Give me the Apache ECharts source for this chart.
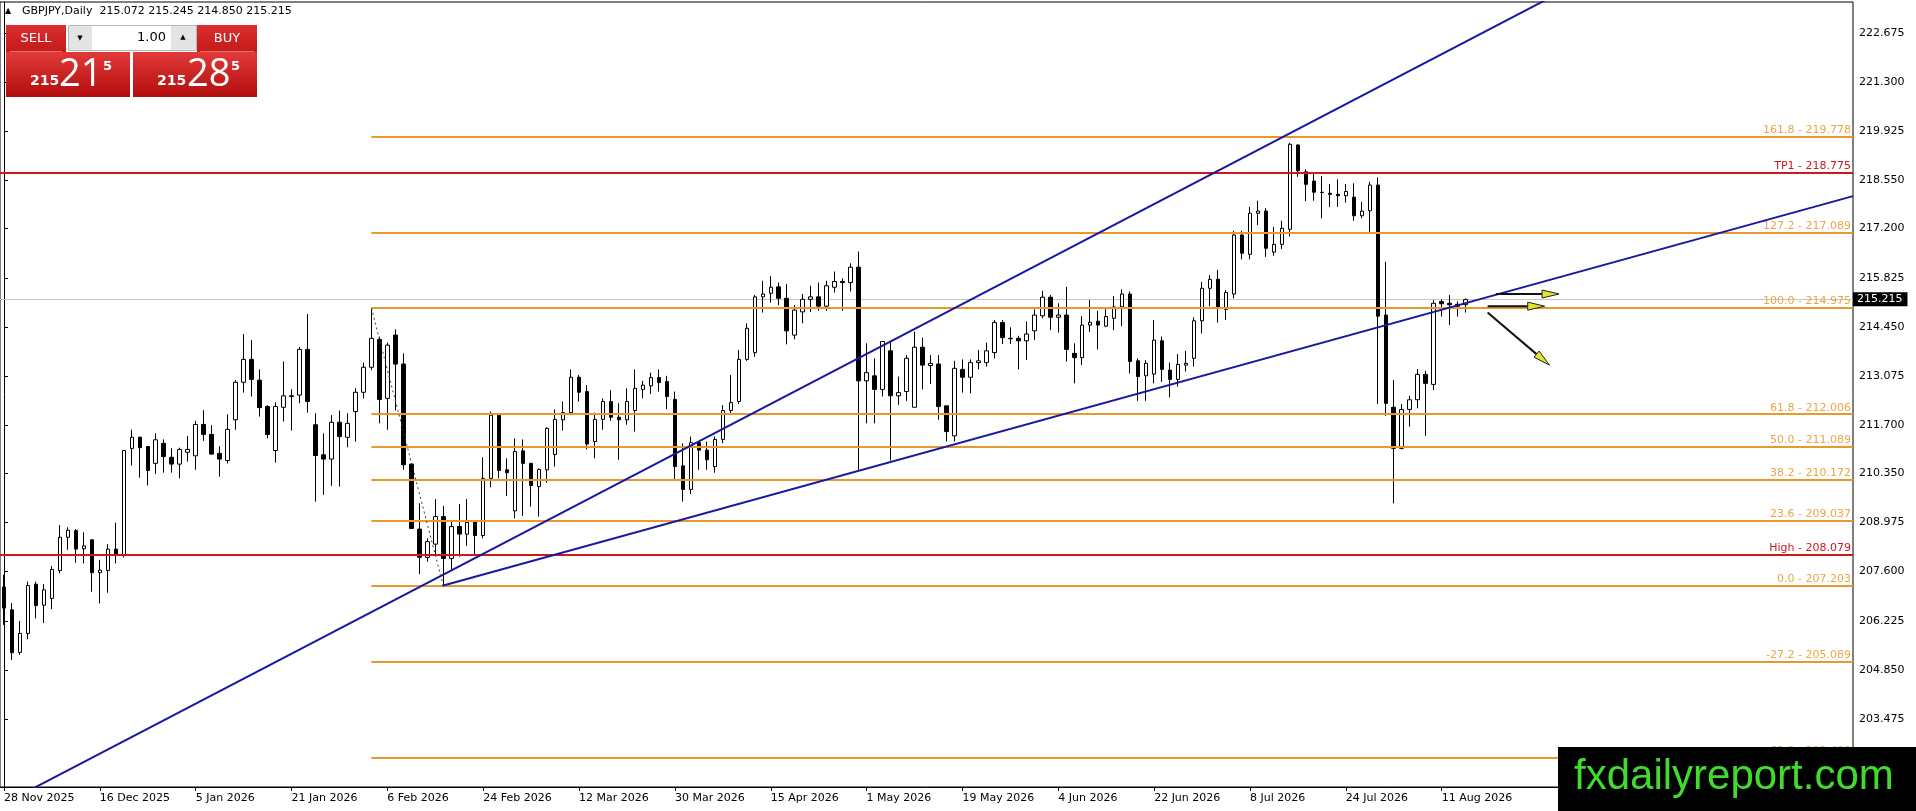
<!DOCTYPE html>
<html><head><meta charset="utf-8">
<script src="https://cdn.jsdelivr.net/npm/echarts@6/dist/echarts.min.js"></script>
<style>html,body{margin:0;padding:0;background:#fff;}#c{width:1916px;height:811px;}</style>
</head><body><div id="c"></div>
<script>
const symbolName = 'GBPJPY,Daily';
const opens = [207.17,206.53,205.34,205.87,207.25,206.66,206.85,207.63,208.56,208.75,208.24,208.49,207.57,207.63,208.23,208.07,211.05,211.36,211.10,210.63,211.19,210.80,210.61,210.94,210.84,211.72,211.44,210.91,210.71,211.85,212.90,213.54,212.96,212.22,210.99,212.20,212.52,212.54,213.82,211.71,210.87,210.75,211.78,211.36,212.08,212.62,213.32,214.10,212.45,214.22,213.41,210.61,208.79,208.00,208.37,209.14,207.97,208.86,208.65,209.02,208.61,210.21,211.98,210.45,209.30,210.98,210.63,209.98,210.45,210.88,211.85,212.05,213.04,212.64,211.24,211.86,212.36,211.92,211.85,212.11,212.70,212.80,213.03,212.92,212.42,210.56,209.90,211.21,211.00,210.54,211.30,212.11,212.36,213.54,213.73,215.29,215.39,215.57,215.25,214.22,214.87,215.22,215.29,215.03,215.56,215.72,215.69,216.12,212.94,213.08,212.70,213.78,212.52,212.64,212.20,213.88,213.37,213.41,212.24,211.40,213.26,213.04,213.45,213.45,213.73,214.57,214.13,214.13,214.06,214.34,214.76,215.28,214.72,214.78,213.71,213.59,214.50,214.61,214.47,214.69,215.01,215.37,213.50,213.08,213.13,214.06,213.24,212.98,213.38,213.57,214.62,215.53,215.78,214.94,215.37,217.02,216.48,217.63,217.69,216.54,216.76,217.18,219.54,218.79,218.53,218.22,218.19,218.16,218.12,218.08,217.56,217.70,218.42,214.78,212.20,211.05,212.14,212.41,213.12,212.84,215.16,215.11,215.08,215.072];
const closes = [206.58,205.33,205.87,207.21,206.65,207.09,207.66,208.56,208.76,208.23,208.32,207.57,207.64,208.23,208.09,210.99,211.36,211.07,210.43,211.29,210.82,210.61,211.02,211.02,211.72,211.44,210.89,210.75,211.58,212.90,213.54,212.98,212.19,211.44,212.22,212.52,212.50,213.82,212.36,210.85,210.75,211.78,211.38,211.75,212.62,213.32,214.13,212.42,213.94,213.41,210.59,208.81,208.00,208.44,209.14,207.97,208.86,208.65,208.98,208.61,210.21,211.98,210.43,210.37,210.96,210.63,210.01,210.46,211.61,211.86,212.05,213.04,212.62,211.17,211.86,212.36,211.92,211.85,212.36,212.73,212.82,213.03,212.89,212.50,210.54,209.90,211.21,211.00,210.73,211.30,212.11,212.33,213.54,214.41,215.29,215.37,215.56,215.25,214.34,214.92,215.22,215.29,215.03,215.60,215.72,215.69,216.12,212.94,213.17,212.70,214.04,212.52,212.61,213.57,213.88,213.38,213.43,212.22,211.52,213.29,213.04,213.45,213.50,213.78,214.57,214.15,214.12,214.06,214.25,214.78,215.28,214.72,214.78,213.82,213.59,214.50,214.58,214.50,214.74,215.01,215.37,213.48,213.06,213.43,214.08,213.26,212.98,213.40,213.43,214.62,215.53,215.78,214.97,215.41,217.02,216.51,217.63,217.69,216.65,216.76,217.21,219.56,218.82,218.44,218.22,218.21,218.16,218.12,218.24,217.56,217.69,218.42,214.75,212.31,211.05,212.14,212.41,213.12,212.87,215.11,215.10,215.07,215.03,215.215];
const lows = [206.11,205.13,205.27,205.71,206.29,206.16,206.55,207.55,208.21,207.85,207.83,207.04,206.71,207.01,207.83,208.00,210.57,210.23,210.01,210.33,210.37,210.37,210.21,210.68,210.45,211.26,210.88,210.26,210.63,211.57,212.61,212.50,211.94,211.33,210.65,211.80,211.55,212.31,212.05,209.56,209.75,210.00,209.98,211.08,211.24,212.45,213.24,211.75,211.57,212.11,210.45,208.79,207.53,207.88,208.09,207.203,207.65,208.02,208.32,208.07,208.53,209.96,210.21,209.72,209.09,209.16,209.42,209.14,210.09,210.54,211.55,211.98,212.36,211.02,210.77,211.57,211.82,210.73,211.71,211.52,212.45,212.57,212.64,212.15,210.17,209.56,209.77,210.45,210.45,210.37,211.19,212.03,212.29,213.50,213.61,214.85,215.13,215.06,213.96,214.10,214.55,214.87,214.90,214.90,215.41,214.90,215.44,210.45,211.75,211.75,212.50,210.71,212.27,212.38,212.20,212.70,212.85,211.85,211.24,211.24,212.61,212.59,213.26,213.34,213.57,213.97,213.97,213.26,213.52,214.08,214.69,214.36,214.29,213.48,212.87,213.38,214.31,213.82,214.44,214.36,214.47,213.15,212.38,212.38,212.87,212.91,212.48,212.78,213.20,213.34,214.27,215.03,214.57,214.64,215.25,216.34,216.34,217.30,216.41,216.44,216.63,216.98,218.65,217.97,217.98,217.49,217.80,217.81,217.93,217.42,217.49,217.11,212.29,211.96,209.51,211.02,211.66,212.17,211.40,212.68,214.74,214.50,214.74,214.850];
const highs = [207.51,206.72,206.22,207.32,207.32,207.25,207.76,208.90,208.84,208.79,208.70,208.51,207.93,208.37,208.97,211.00,211.57,211.38,211.12,211.47,211.30,211.05,211.07,211.40,211.82,212.12,211.70,211.11,212.00,212.96,214.25,214.08,213.26,212.26,212.34,213.48,212.70,213.89,214.81,212.03,211.47,211.98,212.11,212.03,212.73,213.45,214.975,214.18,214.01,214.38,213.71,210.63,209.51,208.53,209.63,209.44,209.04,209.49,209.63,209.04,210.80,212.08,212.03,210.77,211.33,211.30,210.65,210.49,211.64,212.14,212.36,213.26,213.10,212.82,212.05,212.45,212.68,212.31,212.73,213.26,212.94,213.17,213.26,213.08,212.64,211.19,211.38,211.24,211.24,211.38,212.26,213.10,213.80,214.55,215.34,215.74,215.87,215.69,215.65,215.06,215.37,215.60,215.69,215.74,216.00,215.81,216.23,216.56,213.99,213.57,214.04,214.04,213.06,213.66,214.32,214.15,213.66,213.66,212.24,213.50,213.54,213.54,213.80,214.01,214.64,214.64,214.44,214.20,214.60,214.94,215.46,215.34,215.11,215.57,213.99,214.75,215.20,214.90,215.00,215.31,215.50,215.44,213.57,213.52,214.64,214.18,213.45,213.69,213.78,214.72,215.71,215.90,216.04,215.48,217.14,217.14,217.81,217.98,217.77,217.25,217.42,219.60,219.56,218.86,218.75,218.67,218.45,218.58,218.45,218.47,217.95,218.51,218.63,216.27,212.96,212.29,212.52,213.27,213.22,215.20,215.22,215.34,215.16,215.245];
const xTickLabels = ['28 Nov 2025','16 Dec 2025','5 Jan 2026','21 Jan 2026','6 Feb 2026','24 Feb 2026','12 Mar 2026','30 Mar 2026','15 Apr 2026','1 May 2026','19 May 2026','4 Jun 2026','22 Jun 2026','8 Jul 2026','24 Jul 2026','11 Aug 2026'];
const xTickEvery = 12;
const slotCount = 232;
const yTicks = [222.675,221.300,219.925,218.550,217.200,215.825,214.450,213.075,211.700,210.350,208.975,207.600,206.225,204.850,203.475];
const yMin = 201.572, yMax = 223.543;
const fibNames = ['161.8','127.2','100.0','61.8','50.0','38.2','23.6','0.0','-27.2','-61.8'];
const fibValues = [219.778,217.089,214.975,212.006,211.089,210.172,209.037,207.203,205.089,202.400];
const fibStartBar = 46;
const redNames = ['TP1','High'];
const redValues = [218.775,208.079];
const bidPrice = 215.215;
const swingHigh = [46, 214.975];
const swingLow = [55, 207.203];
const trendA = [[-0.5, 201.049],[200, 224.413]];
const trendB = [[54.9, 207.203],[231.5, 218.11]];
const arrowsFrom = [[186.8, 215.37],[185.75, 215.03],[185.75, 214.85]];
const arrowsTo = [[194.7, 215.37],[192.9, 215.03],[193.5, 213.38]];
const sellParts = ['215','21','5'];
const buyParts = ['215','28','5'];
const lotSize = '1.00';

const F = 'DejaVu Sans';
const last = opens.length - 1;
const categories = Array.from({length: slotCount}, (_, i) => String(i));
const candleData = opens.map((o, i) => [o, closes[i], lows[i], highs[i]]);
const tickShown = (idx) => idx % xTickEvery === 0 && (idx / xTickEvery) < xTickLabels.length;
const RIGHT = 231.5;

const fibColor = '#E8992E', fibText = '#E9A646', redColor = '#CC1A1A', navy = '#1818A0';

const chart = echarts.init(document.getElementById('c'), null, {renderer: 'canvas'});
const redGrad = new echarts.graphic.LinearGradient(0,0,0,1,[{offset:0,color:'#e23a3a'},{offset:1,color:'#b30c0c'}]);
const redGrad2 = new echarts.graphic.LinearGradient(0,0,0,1,[{offset:0,color:'#dc2e2e'},{offset:1,color:'#c41a1a'}]);

chart.setOption({
  animation: false,
  backgroundColor: '#ffffff',
  grid: {left: 0, right: 63, top: 2, bottom: 24, show: true, borderColor: '#000', borderWidth: 1, backgroundColor: '#fff'},
  xAxis: [
    {type: 'category', data: categories, boundaryGap: true,
     axisLine: {show: true, lineStyle: {color: '#000', width: 1}},
     axisTick: {show: true, interval: (i) => tickShown(i), alignWithLabel: true, length: 4, lineStyle: {color: '#000'}},
     axisLabel: {show: true, interval: (i) => tickShown(i), align: 'left', margin: 6, color: '#000', fontSize: 11, fontFamily: F,
       formatter: (v, idx) => tickShown(idx) ? xTickLabels[idx / xTickEvery] : ''},
     splitLine: {show: false}},
    {type: 'value', min: -0.5, max: RIGHT, show: false, gridIndex: 0}
  ],
  yAxis: [{type: 'value', position: 'right', min: yMin, max: yMax, scale: true,
    axisLine: {show: true, lineStyle: {color: '#000', width: 1}},
    axisTick: {show: true, length: 4, customValues: yTicks, lineStyle: {color: '#000'}},
    axisLabel: {show: true, customValues: yTicks, margin: 6, color: '#000', fontSize: 11, fontFamily: F, formatter: (v) => v.toFixed(3)},
    splitLine: {show: false}}],
  series: [
    {type: 'candlestick', name: 'GBPJPY', xAxisIndex: 0, yAxisIndex: 0, data: candleData, barWidth: 4, z: 3,
     itemStyle: {color: '#ffffff', color0: '#000000', borderColor: '#000000', borderColor0: '#000000', borderWidth: 1},
     markLine: {silent: true, symbol: ['none','none'], animation: false, z: 2,
       data: [{yAxis: bidPrice, lineStyle: {color: '#c4c4c4', width: 1, type: 'solid'},
         label: {show: true, position: 'end', distance: 0, formatter: bidPrice.toFixed(3), color: '#fff', backgroundColor: '#000',
           padding: [2, 5, 1, 4], fontSize: 11, fontFamily: F}}]}},
    {type: 'line', name: 'levels', xAxisIndex: 1, yAxisIndex: 0, data: trendA, symbol: 'none', z: 6,
     lineStyle: {color: navy, width: 2}, clip: true,
     markLine: {silent: true, symbol: ['none','none'], animation: false, z: 5,
       data: fibValues.map((v, i) => [
         {coord: [fibStartBar, v], lineStyle: {color: fibColor, width: 2, type: 'solid'},
          label: {show: true, position: 'insideEndTop', distance: [2, 1], formatter: fibNames[i] + ' - ' + v.toFixed(3), color: fibText, fontSize: 11, fontFamily: F}},
         {coord: [RIGHT, v]}])}},
    {type: 'line', name: 'trendB', xAxisIndex: 1, yAxisIndex: 0, data: trendB, symbol: 'none', z: 6,
     lineStyle: {color: navy, width: 2}, clip: true,
     markLine: {silent: true, symbol: ['none','none'], animation: false, z: 5,
       data: redValues.map((v, i) => [
         {coord: [-0.5, v], lineStyle: {color: redColor, width: 2, type: 'solid'},
          label: {show: true, position: 'insideEndTop', distance: [2, 1], formatter: redNames[i] + ' - ' + v.toFixed(3), color: redColor, fontSize: 11, fontFamily: F}},
         {coord: [RIGHT, v]}])}},
    {type: 'line', name: 'fibBase', xAxisIndex: 1, yAxisIndex: 0, data: [swingHigh, swingLow], symbol: 'none', z: 6,
     lineStyle: {color: '#333355', width: 1, type: [2, 3]}},
    {type: 'custom', name: 'arrows', xAxisIndex: 1, yAxisIndex: 0, z: 8,
     data: arrowsFrom.map((f, i) => [f[0], f[1], arrowsTo[i][0], arrowsTo[i][1]]),
     encode: {x: [0, 2], y: [1, 3]},
     renderItem: (params, api) => {
       const p1 = api.coord([api.value(0), api.value(1)]);
       const p2 = api.coord([api.value(2), api.value(3)]);
       const dx = p2[0] - p1[0], dy = p2[1] - p1[1];
       const len = Math.hypot(dx, dy) || 1;
       const ux = dx / len, uy = dy / len, hl = 17, hw = 4;
       const bx = p2[0] - ux * hl, by = p2[1] - uy * hl;
       return {type: 'group', children: [
         {type: 'line', shape: {x1: p1[0], y1: p1[1], x2: bx, y2: by}, style: {stroke: '#111', lineWidth: 2}},
         {type: 'polygon', shape: {points: [[p2[0], p2[1]], [bx - uy * hw, by + ux * hw], [bx + uy * hw, by - ux * hw]]},
          style: {fill: '#E2E628', stroke: '#222', lineWidth: 1}}
       ]};
     }}
  ],
  graphic: [
    {type: 'text', left: 5, top: 7, z: 50, style: {text: '\u25B2', fontSize: 8, fill: '#000', fontFamily: F}},
    {type: 'text', left: 22, top: 6, z: 50, style: {
      text: symbolName + '  ' + opens[last].toFixed(3) + ' ' + highs[last].toFixed(3) + ' ' + lows[last].toFixed(3) + ' ' + closes[last].toFixed(3),
      fontSize: 11, fill: '#000', fontFamily: F}},
    // top small buttons
    {type: 'rect', shape: {x: 6, y: 25, width: 60, height: 27}, style: {fill: redGrad2}, z: 50},
    {type: 'rect', shape: {x: 197, y: 25, width: 60, height: 27}, style: {fill: redGrad2}, z: 50},
    {type: 'line', shape: {x1: 10, y1: 51.5, x2: 62, y2: 51.5}, style: {stroke: '#e87070', lineWidth: 1}, z: 51},
    {type: 'line', shape: {x1: 200, y1: 51.5, x2: 254, y2: 51.5}, style: {stroke: '#e87070', lineWidth: 1}, z: 51},
    {type: 'text', x: 36, y: 39, z: 52, style: {text: 'SELL', fontSize: 13, fill: '#fff', fontFamily: F, align: 'center', verticalAlign: 'middle'}},
    {type: 'text', x: 227, y: 39, z: 52, style: {text: 'BUY', fontSize: 13, fill: '#fff', fontFamily: F, align: 'center', verticalAlign: 'middle'}},
    // spinner
    {type: 'rect', shape: {x: 68.5, y: 25.5, width: 128, height: 25}, style: {fill: '#fff', stroke: '#b8b8b8', lineWidth: 1}, z: 50},
    {type: 'rect', shape: {x: 69, y: 26, width: 23, height: 24}, style: {fill: '#e4e4e4'}, z: 51},
    {type: 'rect', shape: {x: 171, y: 26, width: 25, height: 24}, style: {fill: '#e4e4e4'}, z: 51},
    {type: 'text', x: 80, y: 38, z: 52, style: {text: '\u25BC', fontSize: 7, fill: '#000', fontFamily: F, align: 'center', verticalAlign: 'middle'}},
    {type: 'text', x: 183, y: 37, z: 52, style: {text: '\u25B2', fontSize: 7, fill: '#000', fontFamily: F, align: 'center', verticalAlign: 'middle'}},
    {type: 'text', x: 166, y: 38, z: 52, style: {text: lotSize, fontSize: 13, fill: '#000', fontFamily: F, align: 'right', verticalAlign: 'middle'}},
    // big price boxes
    {type: 'rect', shape: {x: 6, y: 52, width: 124, height: 45}, style: {fill: redGrad}, z: 50},
    {type: 'rect', shape: {x: 133, y: 52, width: 124, height: 45}, style: {fill: redGrad}, z: 50},
    {type: 'text', x: 30, y: 81, z: 52, style: {text: sellParts[0], fontSize: 14, fontWeight: 'bold', fill: '#fff', fontFamily: F, verticalAlign: 'middle'}},
    {type: 'text', x: 59, y: 75, z: 52, style: {text: sellParts[1], fontSize: 38, fill: '#fff', fontFamily: 'Open Sans', verticalAlign: 'middle'}},
    {type: 'text', x: 103, y: 67, z: 52, style: {text: sellParts[2], fontSize: 13, fontWeight: 'bold', fill: '#fff', fontFamily: F, verticalAlign: 'middle'}},
    {type: 'text', x: 157, y: 81, z: 52, style: {text: buyParts[0], fontSize: 14, fontWeight: 'bold', fill: '#fff', fontFamily: F, verticalAlign: 'middle'}},
    {type: 'text', x: 187, y: 75, z: 52, style: {text: buyParts[1], fontSize: 38, fill: '#fff', fontFamily: 'Open Sans', verticalAlign: 'middle'}},
    {type: 'text', x: 231, y: 67, z: 52, style: {text: buyParts[2], fontSize: 13, fontWeight: 'bold', fill: '#fff', fontFamily: F, verticalAlign: 'middle'}},
    // watermark
    {type: 'rect', shape: {x: 1558, y: 747, width: 358, height: 64}, style: {fill: '#000'}, z: 100},
    {type: 'text', x: 1574, y: 777, z: 101, style: {text: 'fxdailyreport.com', fontSize: 42, fill: '#41DB2E', fontFamily: 'Liberation Sans', verticalAlign: 'middle'}}
  ]
});
</script></body></html>
